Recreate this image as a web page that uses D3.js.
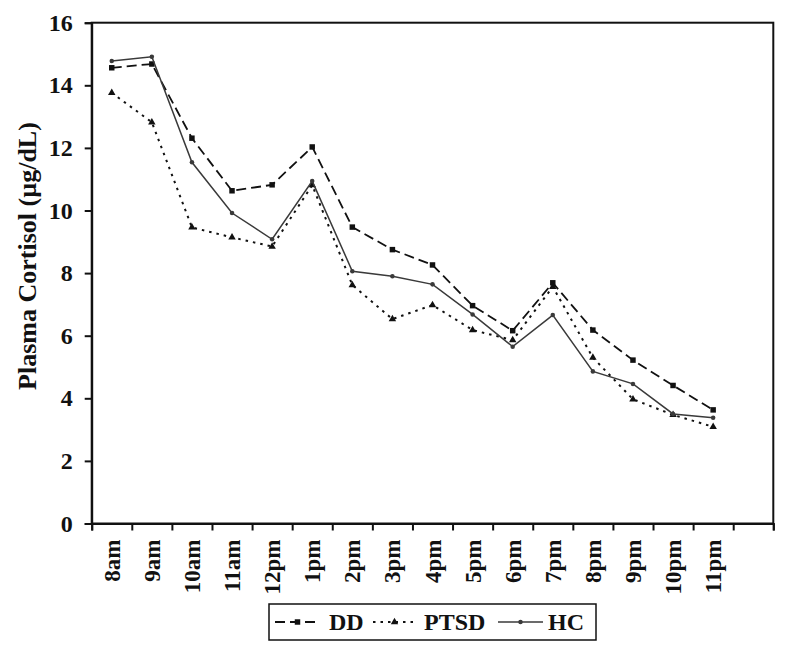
<!DOCTYPE html>
<html>
<head>
<meta charset="utf-8">
<script src="https://cdn.jsdelivr.net/npm/d3@7"></script>
<style>
  html, body { margin: 0; padding: 0; background: #fff; }
  svg { display: block; }
  text { font-family: "Liberation Serif", "Times New Roman", serif; font-weight: bold; fill: #111; }
</style>
</head>
<body>
<svg id="chart" width="792" height="654"></svg>
<script>
const categories = ["8am","9am","10am","11am","12pm","1pm","2pm","3pm","4pm","5pm","6pm","7pm","8pm","9pm","10pm","11pm"];
const slots = categories.concat([""]); // Excel-style empty slot at the end
const ddValues   = [14.56, 14.68, 12.31, 10.63, 10.82, 12.03, 9.47, 8.75, 8.26, 6.96, 6.16, 7.69, 6.18, 5.22, 4.41, 3.63];
const ptsdValues = [13.76, 12.82, 9.46, 9.14, 8.85, 10.81, 7.62, 6.53, 6.98, 6.18, 5.86, 7.56, 5.30, 3.97, 3.47, 3.09];
const hcValues   = [14.78, 14.91, 11.54, 9.92, 9.08, 10.94, 8.06, 7.90, 7.64, 6.68, 5.65, 6.66, 4.86, 4.46, 3.50, 3.38];
const yTicks = [0, 2, 4, 6, 8, 10, 12, 14, 16];
const seriesNames = ["DD", "PTSD", "HC"];
const yLabel = "Plasma Cortisol (\u00b5g/dL)";

const series = [
  { name: seriesNames[0], values: ddValues,   dash: "10,5",  color: "#111", width: 1.8, symbol: d3.symbolSquare,   size: 30 },
  { name: seriesNames[1], values: ptsdValues, dash: "2.5,5", color: "#111", width: 2,   symbol: d3.symbolTriangle, size: 24 },
  { name: seriesNames[2], values: hcValues,   dash: null,    color: "#3a3a3a", width: 1.5, symbol: d3.symbolCircle, size: 16 }
];

const svg = d3.select("#chart");
svg.append("rect").attr("width", 792).attr("height", 654).attr("fill", "#fff");

const L = 91.7, R = 773.3, T = 22.7, B = 523.5;
const x = d3.scaleBand().domain(slots).range([L, R]).paddingInner(0).paddingOuter(0);
const xEdges = d3.scaleLinear().domain([0, slots.length]).range([L, R]);
const y = d3.scaleLinear().domain([0, 16]).range([B, T]);

// plot frame
svg.append("rect").attr("x", L).attr("y", T).attr("width", R - L).attr("height", B - T)
  .attr("fill", "none").attr("stroke", "#111").attr("stroke-width", 2);

// y axis
const yAxis = svg.append("g").attr("transform", `translate(${L},0)`)
  .call(d3.axisLeft(y).tickValues(yTicks).tickSize(7).tickPadding(12).tickFormat(d3.format("d")));
yAxis.attr("font-family", null).attr("font-size", null);
yAxis.select(".domain").attr("stroke", "#111").attr("stroke-width", 2);
yAxis.selectAll(".tick line").attr("stroke", "#111").attr("stroke-width", 2);
yAxis.selectAll(".tick text").style("font-size", "24px").attr("fill", "#111");

// x axis tick marks at category boundaries
const xAxis = svg.append("g").attr("transform", `translate(0,${B})`)
  .call(d3.axisBottom(xEdges).tickValues(d3.range(0, slots.length + 1)).tickSize(7).tickFormat(""));
xAxis.select(".domain").attr("stroke", "#111").attr("stroke-width", 2);
xAxis.selectAll(".tick line").attr("stroke", "#111").attr("stroke-width", 2);

// x category labels rotated
svg.append("g").selectAll("text").data(categories).join("text")
  .attr("transform", d => `translate(${x(d) + x.bandwidth() / 2 + 8},${B + 16}) rotate(-90)`)
  .attr("text-anchor", "end")
  .style("font-size", "23px")
  .text(d => d);

// y label
svg.append("text")
  .attr("transform", `translate(36,${256}) rotate(-90)`)
  .attr("text-anchor", "middle")
  .style("font-size", "26px")
  .text(yLabel);

// lines
const line = d3.line().x((d, i) => x(categories[i]) + x.bandwidth() / 2).y(d => y(d));
series.forEach(s => {
  svg.append("path").datum(s.values)
    .attr("fill", "none").attr("stroke", s.color).attr("stroke-width", s.width)
    .attr("stroke-dasharray", s.dash).attr("d", line);
  svg.append("g").selectAll("path").data(s.values).join("path")
    .attr("transform", (d, i) => `translate(${x(categories[i]) + x.bandwidth() / 2},${y(d)})`)
    .attr("d", d3.symbol().type(s.symbol).size(s.size))
    .attr("fill", s.color);
});

// legend
const lg = svg.append("g");
lg.append("rect").attr("x", 269).attr("y", 604).attr("width", 327).attr("height", 36)
  .attr("fill", "#fff").attr("stroke", "#111").attr("stroke-width", 1.5);
const legendItems = [
  { s: series[0], x0: 275, x1: 320, tx: 329 },
  { s: series[1], x0: 373, x1: 416, tx: 424 },
  { s: series[2], x0: 498, x1: 543, tx: 548 }
];
legendItems.forEach(it => {
  const cy = 622;
  lg.append("line").attr("x1", it.x0).attr("x2", it.x1).attr("y1", cy).attr("y2", cy)
    .attr("stroke", it.s.color).attr("stroke-width", it.s.width).attr("stroke-dasharray", it.s.dash);
  lg.append("path").attr("transform", `translate(${(it.x0 + it.x1) / 2},${cy})`)
    .attr("d", d3.symbol().type(it.s.symbol).size(it.s.size)).attr("fill", it.s.color);
  lg.append("text").attr("x", it.tx).attr("y", cy + 8).style("font-size", "24px").text(it.s.name);
});
</script>
</body>
</html>
